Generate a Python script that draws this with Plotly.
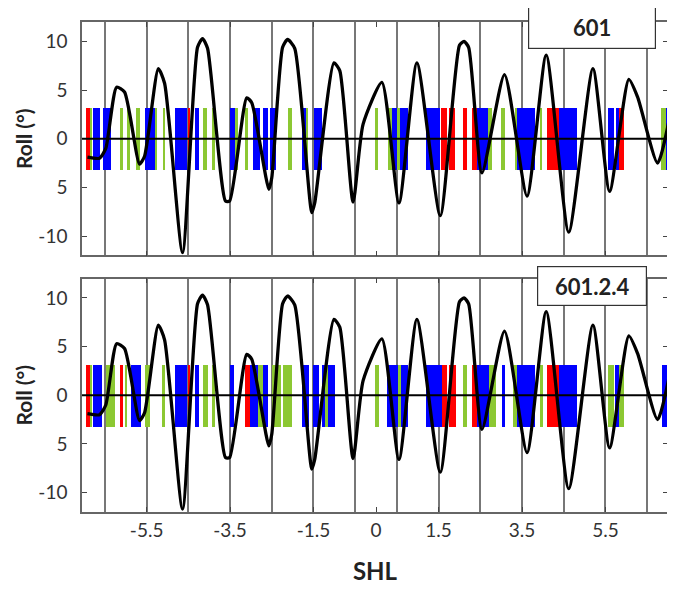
import plotly.graph_objects as go
from plotly.subplots import make_subplots

# ---- data ----
roll_x = [-6.92, -6.63, -6.48, -6.22, -6.03, -5.67, -5.55, -5.22, -5.07, -4.64,
          -4.28, -4.16, -4.04, -3.61, -3.51, -3.10, -2.98, -2.57, -2.50, -2.24,
          -2.12, -1.95, -1.54, -1.47, -1.01, -0.87, -0.55, -0.31, 0.14, 0.55,
          0.98, 1.54, 2.00, 2.11, 2.22, 2.54, 3.08, 3.62, 4.08, 4.62,
          5.20, 5.60, 6.06, 6.27, 6.75, 7.06]
roll_y = [-1.9, -2.0, -1.0, 5.3, 4.8, -2.6, -1.8, 7.2, 5.7, -11.7,
          9.4, 10.3, 9.3, -6.4, -6.4, 4.2, 3.7, -5.2, -4.0, 9.4,
          10.2, 9.3, -7.6, -6.6, 7.8, 7.0, -6.5, 1.5, 5.8, -6.6,
          7.8, -7.9, 9.6, 10.0, 9.4, -3.5, 6.6, -5.9, 8.6, -9.6,
          7.2, -5.4, 6.1, 4.3, -2.5, 2.6]

# bars: (start, end) in SHL units
top_red = [(-6.96, -6.85), (-4.52, -4.45), (1.56, 1.71), (1.75, 1.90), (2.09, 2.19),
           (2.31, 2.43), (4.11, 4.38), (5.82, 5.94)]
top_blue = [(-6.78, -6.63), (-6.54, -6.35), (-5.53, -5.31), (-4.83, -4.54), (-4.35, -4.25),
            (-3.51, -3.39), (-2.96, -2.79), (-2.72, -2.60), (-2.55, -2.40), (-1.78, -1.68),
            (-1.49, -1.30), (0.38, 0.50), (0.58, 0.77), (1.20, 1.54), (2.43, 2.69),
            (3.39, 3.82), (4.38, 4.83), (5.55, 5.70), (5.75, 5.82), (6.95, 7.07)]
top_green = [(-6.85, -6.80), (-6.13, -6.06), (-5.96, -5.89), (-5.75, -5.65), (-5.31, -5.25),
             (-5.12, -5.05), (-4.16, -4.06), (-3.94, -3.87), (-3.39, -3.32), (-3.15, -3.08),
             (-2.12, -2.02), (-1.68, -1.63), (-0.02, 0.05), (0.29, 0.38), (0.50, 0.58),
             (2.69, 2.79), (3.00, 3.08), (3.32, 3.39), (3.92, 3.99), (6.83, 6.95)]

bot_red = [(-6.96, -6.85), (-6.15, -6.06), (-4.52, -4.45), (-3.15, -3.03), (1.59, 1.71),
           (1.75, 1.92), (2.31, 2.43), (4.11, 4.38)]
bot_blue = [(-6.78, -6.56), (-5.87, -5.63), (-4.83, -4.54), (-4.35, -4.25), (-3.51, -3.41),
            (-3.03, -2.84), (-2.72, -2.60), (-1.78, -1.61), (-1.51, -1.37), (-1.30, -1.23),
            (-1.15, -0.99), (0.26, 0.53), (0.60, 0.77), (1.20, 1.59), (2.43, 2.72),
            (3.03, 3.10), (3.39, 3.82), (4.38, 4.83), (5.72, 5.82), (6.85, 7.07)]
bot_green = [(-6.85, -6.80), (-6.47, -6.27), (-6.03, -5.96), (-5.53, -5.43), (-5.14, -5.05),
             (-4.16, -4.04), (-3.94, -3.85), (-2.84, -2.72), (-2.50, -2.28), (-2.24, -2.02),
             (-1.23, -1.15), (-0.02, 0.07), (0.53, 0.60), (2.09, 2.19), (2.72, 2.88),
             (3.29, 3.39), (3.92, 4.01), (5.55, 5.70), (5.82, 5.94)]

band_half = 3.2
x_tickvals = [-5.5, -3.5, -1.5, 0, 1.5, 3.5, 5.5]
x_ticktext = ["-5.5", "-3.5", "-1.5", "0", "1.5", "3.5", "5.5"]
y_tickvals = [-10, -5, 0, 5, 10]
y_ticktext = ["-10", "5", "0", "5", "10"]
panel_labels = ["601", "601.2.4"]

RED, BLUE, GREEN = "#ff0000", "#0000ff", "#8cc832"
FONT = "Lato, Open Sans, sans-serif"

fig = make_subplots(rows=2, cols=1, vertical_spacing=0.047)

def add_bars(segs, color, row):
    fig.add_trace(go.Bar(
        x=[(a + b) / 2 for a, b in segs],
        y=[2 * band_half] * len(segs),
        base=[-band_half] * len(segs),
        width=[b - a for a, b in segs],
        marker=dict(color=color, line=dict(width=0)),
        showlegend=False, hoverinfo="skip"), row=row, col=1)

for row, (r, b, g) in enumerate([(top_red, top_blue, top_green),
                                  (bot_red, bot_blue, bot_green)], start=1):
    add_bars(g, GREEN, row)
    add_bars(b, BLUE, row)
    add_bars(r, RED, row)
    fig.add_trace(go.Scatter(x=roll_x, y=roll_y, mode="lines",
                             line=dict(color="black", width=3.3, shape="spline", smoothing=0.6),
                             showlegend=False, hoverinfo="skip"), row=row, col=1)

fig.update_layout(barmode="overlay", bargap=0)

tickfont = dict(family=FONT, size=19, color="#333")
for row in (1, 2):
    fig.update_xaxes(row=row, col=1, range=[-7.05, 7.0], automargin=False,
                     tickvals=x_tickvals, ticktext=x_ticktext,
                     showticklabels=(row == 2), tickfont=tickfont,
                     ticks="inside", ticklen=5, tickcolor="#444",
                     showgrid=False, zeroline=False,
                     showline=True, linecolor="#666", linewidth=1.5, mirror="ticks",
                     minor=dict(tick0=0.5, dtick=1, showgrid=True, gridcolor="#777",
                                gridwidth=1.5, ticks=""))
    fig.update_yaxes(row=row, col=1, range=[-12, 12], automargin=False,
                     tickvals=y_tickvals, ticktext=y_ticktext, tickfont=tickfont,
                     ticklabelstandoff=9,
                     ticks="inside", ticklen=5, tickcolor="#444",
                     showgrid=False, zeroline=False,
                     showline=True, linecolor="#666", linewidth=1.5, mirror="ticks",
                     title=dict(text="<b>Roll (°)</b>", standoff=0,
                                font=dict(family=FONT, size=21, color="#222")))
    yref = "y" if row == 1 else "y2"
    xref = "x" if row == 1 else "x2"
    fig.add_shape(type="line", xref=xref + " domain", yref=yref, x0=0, x1=1, y0=0, y1=0,
                  line=dict(color="black", width=2), layer="above")

fig.update_xaxes(row=2, col=1, title=dict(text="<b>SHL</b>", standoff=24,
                 font=dict(family=FONT, size=24, color="#222")))

# panel label boxes
fig.add_annotation(xref="paper", yref="paper", x=0.870, y=0.990, xanchor="center", yanchor="middle",
                   text="<b>%s</b>" % panel_labels[0], showarrow=False, width=124, height=40,
                   bordercolor="#333", borderwidth=1.2, bgcolor="white",
                   font=dict(family=FONT, size=22, color="#222"))
fig.add_annotation(xref="paper", yref="paper", x=0.870, y=0.462, xanchor="center", yanchor="middle",
                   text="<b>%s</b>" % panel_labels[1], showarrow=False, width=106, height=36,
                   bordercolor="#333", borderwidth=1.2, bgcolor="white",
                   font=dict(family=FONT, size=22, color="#222"))

# page body has an 8px default margin; size the figure so the plot area lands where the reference has it
fig.update_layout(width=667, height=582, margin=dict(l=74, r=7, t=14, b=78),
                  plot_bgcolor="white", paper_bgcolor="white")

fig.write_html("out.html")
